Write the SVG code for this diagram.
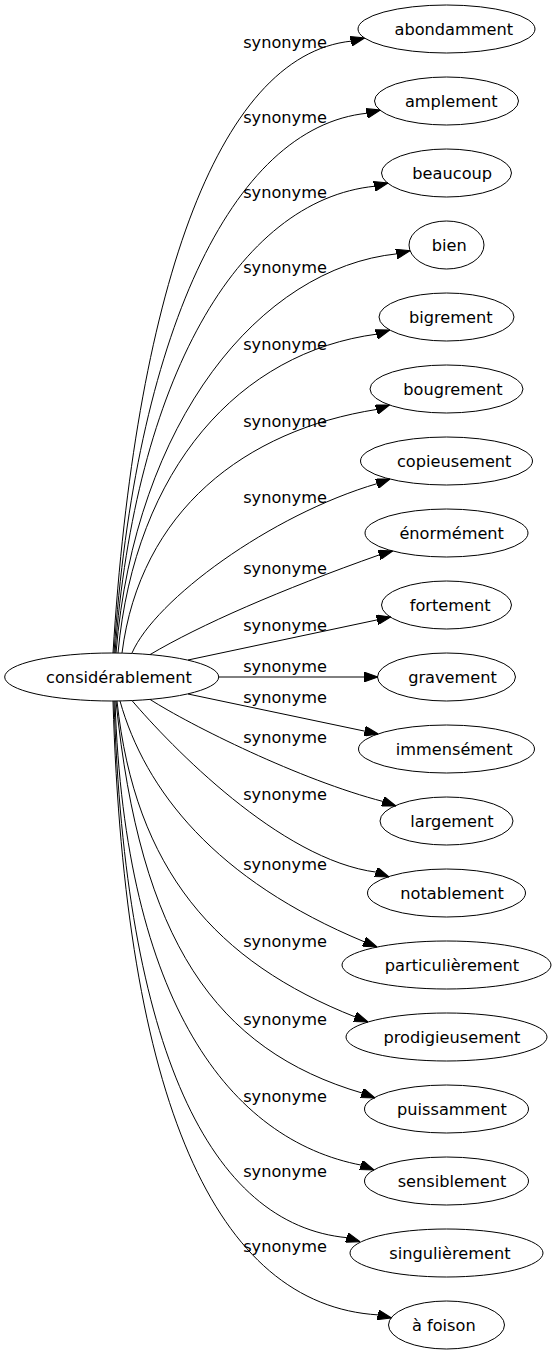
<svg xmlns="http://www.w3.org/2000/svg" width="556" height="1355" viewBox="0 0 556 1355">
<defs>
<style>
.n ellipse{fill:none;stroke:#000;stroke-width:1}
text{font-family:"DejaVu Sans","Liberation Sans",sans-serif;font-size:16.2px;fill:#000;text-anchor:middle}
.e path{fill:none;stroke:#000;stroke-width:1;marker-end:url(#ah)}
</style>
<marker id="ah" markerUnits="userSpaceOnUse" markerWidth="14" markerHeight="10" refX="13.3" refY="4.67" viewBox="0 0 13.3 9.34" orient="auto">
<path d="M0,0 L13.3,4.67 L0,9.34 z" fill="#000" stroke="#000" stroke-width="1"/>
</marker>
</defs>
<rect width="556" height="1355" fill="#fff"/>
<g id="edges" class="e">
<path d="M113,653 C135,300 215,55 351.6,41.1 L364.5,38"/>
<path d="M114,653 C135,339.5 230,127 367.4,113.2 L380.3,110"/>
<path d="M115,653 C135,382 237,200 375,186.2 L387.9,183"/>
<path d="M116,653 C135,421 260,268 397.1,253.8 L410,250.7"/>
<path d="M118,653 C135,468 240,352 377.1,334.1 L389.7,330"/>
<path d="M122,653 C140,511 245,430 377,409.4 L389.5,405"/>
<path d="M132,653 C155,600 270,515 377.5,483.5 L390,479"/>
<path d="M150,654.6 C200,625 280,590 379.8,554.7 L392.6,551"/>
<path d="M188,660 L390.7,617"/>
<path d="M219,677 L378,677"/>
<path d="M188,694 L378.3,734"/>
<path d="M150,699.4 C190,725 300,780 383.5,801.6 L396,806"/>
<path d="M132,700.6 C170,745 280,860 376.6,872.2 L389,877"/>
<path d="M120,701 C145,790 215,880 364.8,942 L377,947"/>
<path d="M117,701 C135,870 216,962 355.6,1017.1 L368,1022"/>
<path d="M116,701 C140,940 215,1050 362.6,1093.2 L375,1098"/>
<path d="M115,701 C125,1003 230,1140 361.6,1165.2 L374,1170"/>
<path d="M114,701 C125,1049 210,1225 347.3,1237.7 L360,1241.7"/>
<path d="M113,701 C125,1100 215,1305 378.1,1314.9 L391.5,1318"/>
</g>
<g id="labels">
<text x="285" y="48">synonyme</text>
<text x="285" y="123">synonyme</text>
<text x="285" y="198">synonyme</text>
<text x="285" y="273">synonyme</text>
<text x="285" y="350">synonyme</text>
<text x="285" y="427">synonyme</text>
<text x="285" y="503">synonyme</text>
<text x="285" y="574">synonyme</text>
<text x="285" y="631">synonyme</text>
<text x="285" y="672">synonyme</text>
<text x="285" y="703">synonyme</text>
<text x="285" y="743">synonyme</text>
<text x="285" y="800">synonyme</text>
<text x="285" y="870">synonyme</text>
<text x="285" y="947">synonyme</text>
<text x="285" y="1025">synonyme</text>
<text x="285" y="1102">synonyme</text>
<text x="285" y="1177">synonyme</text>
<text x="285" y="1252">synonyme</text>
</g>
<g id="considerablement" class="n"><ellipse cx="111.7" cy="677" rx="107" ry="24"/><text x="119" y="683">considérablement</text></g>
<g id="abondamment" class="n"><ellipse cx="446.5" cy="29" rx="88.5" ry="24"/><text x="453.8" y="35">abondamment</text></g>
<g id="amplement" class="n"><ellipse cx="446.5" cy="101" rx="72" ry="24"/><text x="451.3" y="107">amplement</text></g>
<g id="beaucoup" class="n"><ellipse cx="446.5" cy="173" rx="65" ry="24"/><text x="452.2" y="179">beaucoup</text></g>
<g id="bien" class="n"><ellipse cx="446.5" cy="245" rx="37.5" ry="24"/><text x="449.2" y="251">bien</text></g>
<g id="bigrement" class="n"><ellipse cx="446.5" cy="317" rx="67.5" ry="24"/><text x="450.8" y="323">bigrement</text></g>
<g id="bougrement" class="n"><ellipse cx="446.5" cy="389" rx="76.5" ry="24"/><text x="453" y="395">bougrement</text></g>
<g id="copieusement" class="n"><ellipse cx="446.5" cy="461" rx="86" ry="24"/><text x="454.2" y="467">copieusement</text></g>
<g id="enormement" class="n"><ellipse cx="446.5" cy="533" rx="81.5" ry="24"/><text x="451.7" y="539">énormément</text></g>
<g id="fortement" class="n"><ellipse cx="446.5" cy="605" rx="65" ry="24"/><text x="450.2" y="611">fortement</text></g>
<g id="gravement" class="n"><ellipse cx="446.5" cy="677" rx="69" ry="24"/><text x="452.5" y="683">gravement</text></g>
<g id="immensement" class="n"><ellipse cx="446.5" cy="749" rx="88" ry="24"/><text x="454.2" y="755">immensément</text></g>
<g id="largement" class="n"><ellipse cx="446.5" cy="821" rx="66.5" ry="24"/><text x="452" y="827">largement</text></g>
<g id="notablement" class="n"><ellipse cx="446.5" cy="893" rx="79" ry="24"/><text x="452" y="899">notablement</text></g>
<g id="particulierement" class="n"><ellipse cx="446.5" cy="965" rx="104.5" ry="24"/><text x="452" y="971">particulièrement</text></g>
<g id="prodigieusement" class="n"><ellipse cx="446.5" cy="1037" rx="100.5" ry="24"/><text x="452" y="1043">prodigieusement</text></g>
<g id="puissamment" class="n"><ellipse cx="446.5" cy="1109" rx="82" ry="24"/><text x="452" y="1115">puissamment</text></g>
<g id="sensiblement" class="n"><ellipse cx="446.5" cy="1181" rx="82" ry="24"/><text x="452" y="1187">sensiblement</text></g>
<g id="singulierement" class="n"><ellipse cx="446.5" cy="1253" rx="96.5" ry="24"/><text x="450" y="1259">singulièrement</text></g>
<g id="a_foison" class="n"><ellipse cx="446.5" cy="1325" rx="58" ry="24"/><text x="443.8" y="1331">à foison</text></g>
</svg>
